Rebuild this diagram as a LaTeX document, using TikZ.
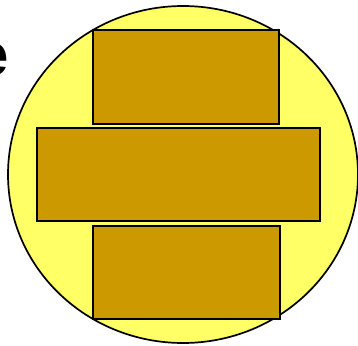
\documentclass[tikz,border=0pt]{standalone}
\usepackage{fontspec}
\setmainfont{Liberation Sans}
\usepackage{tikz}
\usepackage{xcolor}
\definecolor{discyellow}{RGB}{255,255,102}
\definecolor{slabgold}{RGB}{204,153,0}
\tikzset{slab/.style={draw=black,line width=2pt,fill=slabgold}}

\begin{document}
\begin{tikzpicture}[x=1pt,y=1pt]
        \useasboundingbox (0,0) rectangle (358,-345);
        \clip (0,0) rectangle (358,-345);
        % Disc
        \draw[line width=1.7pt,fill=discyellow] (183,-174.5) ellipse [x radius=175,y radius=168.5];
        % Slabs
        \draw[slab] (93,-30) rectangle (279,-124);
        \draw[slab] (37,-128) rectangle (320,-221);
        \draw[slab] (93,-226) rectangle (280,-319);
        % Cut-off title letter
        \node[font=\fontsize{60}{60}\selectfont\bfseries,inner sep=0pt,anchor=base east]
          (title) at (9,-75){e};
      \end{tikzpicture}
\end{document}
